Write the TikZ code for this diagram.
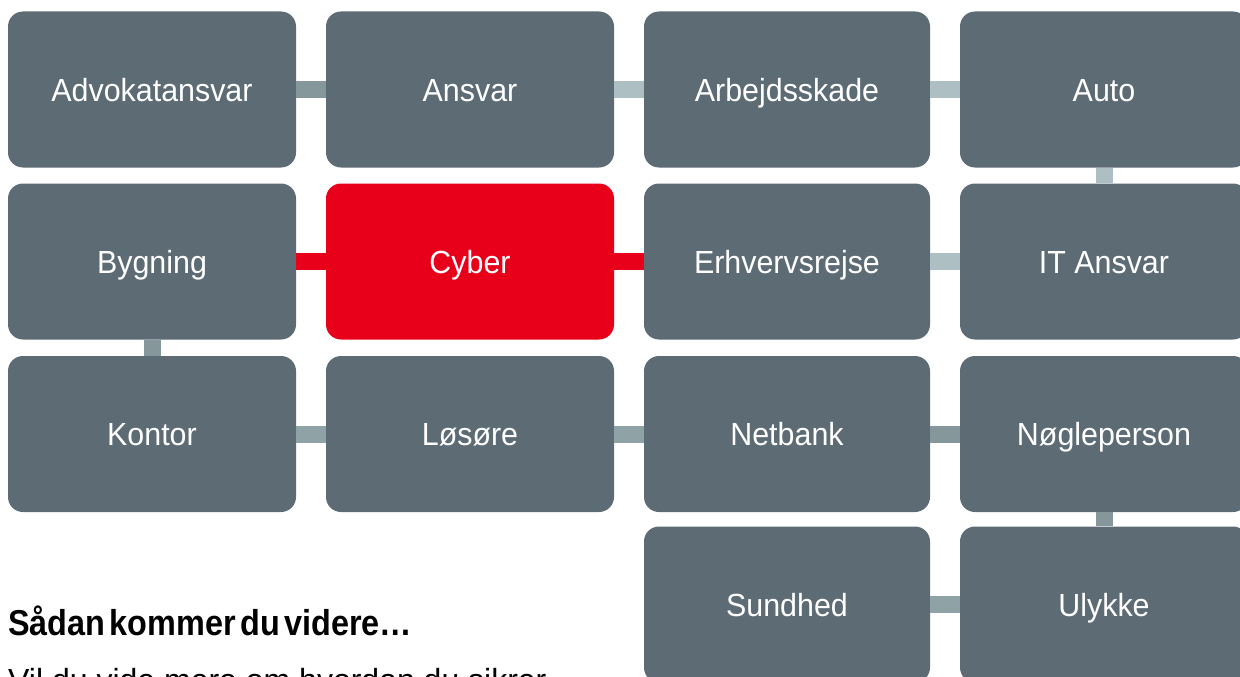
\documentclass[tikz,border=0pt]{standalone}
\usepackage{fontspec}
\setmainfont{Liberation Sans}
\newfontfamily\boxfont[FakeStretch=0.95]{Liberation Sans}
\newfontfamily\headfont[FakeStretch=0.9,WordSpace=0.5]{Liberation Sans}
\definecolor{boxgray}{HTML}{5D6B75}
\definecolor{boxred}{HTML}{E8001B}
\definecolor{cdark}{HTML}{85979B}
\definecolor{clight}{HTML}{ADBFC2}
\definecolor{cmid}{HTML}{8FA3A6}
\tikzset{
  tile/.style={rectangle, rounded corners=15pt, fill=boxgray, draw=none,
    minimum width=288pt, minimum height=156pt, inner sep=0pt,
    text=white, font=\boxfont\fontsize{32}{36}\selectfont,
    text height=23pt, text depth=0pt},
  redtile/.style={tile, fill=boxred},
  conn/.style={line width=17pt, line cap=butt},
}
\begin{document}
\begin{tikzpicture}[x=1pt,y=-1pt]
\useasboundingbox (0,0) rectangle (1240,677);
\clip (0,0) rectangle (1240,677);
\fill[white] (0,0) rectangle (1240,677);
% row 1
\node[tile] (adv) at (152,89.5) {Advokatansvar};
\node[tile] (ans) at (470,89.5) {Ansvar};
\node[tile, minimum width=286pt] (arb) at (787,89.5) {Arbejdsskade};
\node[tile] (auto) at (1104,89.5) {Auto};
% row 2
\node[tile] (byg) at (152,261.5) {Bygning};
\node[redtile] (cyb) at (470,261.5) {Cyber};
\node[tile, minimum width=286pt] (erh) at (787,261.5) {Erhvervsrejse};
\node[tile] (it) at (1104,261.5) {IT Ansvar};
% row 3
\node[tile] (kon) at (152,434) {Kontor};
\node[tile] (los) at (470,434) {Løsøre};
\node[tile, minimum width=286pt] (net) at (787,434) {Netbank};
\node[tile] (nog) at (1104,434) {Nøgleperson};
% row 4
\node[tile, minimum width=286pt] (sun) at (787,604.5) {Sundhed};
\node[tile] (uly) at (1104,604.5) {Ulykke};
% connectors
\draw[conn, cdark] (adv.east) -- (ans.west);
\draw[conn, clight] (ans.east) -- (arb.west);
\draw[conn, clight] (arb.east) -- (auto.west);
\draw[conn, clight] (auto.south) -- (it.north);
\draw[conn, boxred] (byg.east) -- (cyb.west);
\draw[conn, boxred] (cyb.east) -- (erh.west);
\draw[conn, clight] (erh.east) -- (it.west);
\draw[conn, cdark] (byg.south) -- (kon.north);
\draw[conn, cmid] (kon.east) -- (los.west);
\draw[conn, cmid] (los.east) -- (net.west);
\draw[conn, cdark] (net.east) -- (nog.west);
\draw[conn, cdark] (nog.south) -- (uly.north);
\draw[conn, cmid] (sun.east) -- (uly.west);
% text
\node[anchor=base west, inner sep=0pt, font=\headfont\bfseries\fontsize{36}{40}\selectfont] (head) at (8,635) {Sådan kommer du videre…};
\node[anchor=base west, inner sep=0pt, font=\fontsize{32}{36}\selectfont] (body) at (8,691) {Vil du vide mere om hvordan du sikrer};
\end{tikzpicture}
\end{document}
